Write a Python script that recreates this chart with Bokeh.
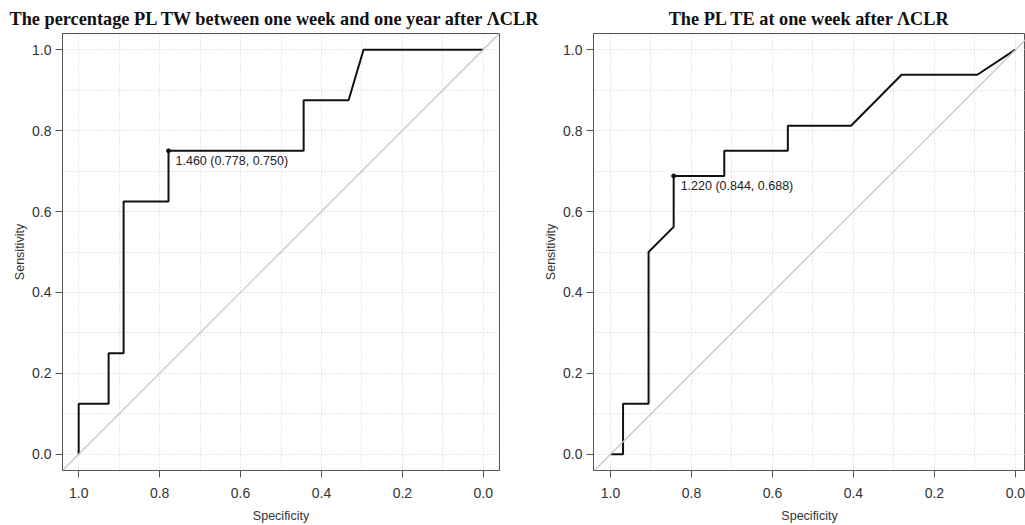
from bokeh.plotting import figure
from bokeh.layouts import row
from bokeh.models import Range1d, FixedTicker, Slope, PrintfTickFormatter
from bokeh.core.properties import value
from bokeh.embed import file_html
from bokeh.resources import INLINE

# ---- data ----
titles = ["The percentage PL TW between one week and one year after \u039bCLR",
          "The PL TE at one week after \u039bCLR"]

tw_spec = [1.0, 1.0, 0.926, 0.926, 0.889, 0.889, 0.778, 0.778, 0.444, 0.444, 0.333, 0.296, 0.0]
tw_sens = [0.0, 0.125, 0.125, 0.25, 0.25, 0.625, 0.625, 0.75, 0.75, 0.875, 0.875, 1.0, 1.0]
tw_thr = 1.460
tw_thr_spec = 0.778
tw_thr_sens = 0.750

te_spec = [1.0, 0.969, 0.969, 0.906, 0.906, 0.844, 0.844, 0.719, 0.719, 0.562, 0.562, 0.406, 0.281, 0.094, 0.0]
te_sens = [0.0, 0.0, 0.125, 0.125, 0.5, 0.562, 0.688, 0.688, 0.75, 0.75, 0.812, 0.812, 0.938, 0.938, 1.0]
te_thr = 1.220
te_thr_spec = 0.844
te_thr_sens = 0.688

x_ticks = [1.0, 0.8, 0.6, 0.4, 0.2, 0.0]
y_ticks = [0.0, 0.2, 0.4, 0.6, 0.8, 1.0]
grid_ticks = [0.0, 0.1, 0.2, 0.3, 0.4, 0.5, 0.6, 0.7, 0.8, 0.9, 1.0]

FONT = "Liberation Sans"
H = 525


def make_panel(title, spec, sens, thr, tspec, tsens, width, bl, br, x_start, x_end,
               t_align, t_offset):
    p = figure(width=width, height=H, x_range=Range1d(x_start, x_end),
               y_range=Range1d(-0.04, 1.04), output_backend="svg", toolbar_location=None,
               min_border_left=bl, min_border_right=br, min_border_top=33,
               min_border_bottom=55, background_fill_color="white",
               border_fill_color="white")
    p.title.text = title
    p.title.text_font = "Liberation Serif"
    p.title.text_font_size = "18.3px"
    p.title.text_font_style = "bold"
    p.title.text_color = "#111111"
    p.title.align = t_align
    p.title.offset = t_offset
    p.title.standoff = 10

    p.outline_line_color = "#555555"
    p.outline_line_width = 1

    for ax in (p.xaxis[0], p.yaxis[0]):
        ax.axis_line_color = "#555555"
        ax.major_tick_line_color = "#555555"
        ax.major_tick_out = 7
        ax.major_tick_in = 0
        ax.minor_tick_line_color = None
        ax.major_label_text_font = FONT
        ax.major_label_text_font_size = "14px"
        ax.major_label_text_color = "#333333"
        ax.axis_label_text_font = FONT
        ax.axis_label_text_font_size = "12.5px"
        ax.axis_label_text_font_style = "normal"
        ax.axis_label_text_color = "#333333"
        ax.formatter = PrintfTickFormatter(format="%.1f")
    p.xaxis.ticker = FixedTicker(ticks=x_ticks)
    p.yaxis.ticker = FixedTicker(ticks=y_ticks)
    p.xaxis.axis_label = "Specificity"
    p.yaxis.axis_label = "Sensitivity"
    p.xaxis.major_label_standoff = 10
    p.xaxis.axis_label_standoff = 8
    p.yaxis.major_label_standoff = 4
    p.yaxis.axis_label_standoff = 2
    p.yaxis.major_label_orientation = "horizontal"

    for g in (p.xgrid[0], p.ygrid[0]):
        g.ticker = FixedTicker(ticks=grid_ticks)
        g.grid_line_color = "#d0d0d0"
        g.grid_line_dash = "1 2"
        g.grid_line_width = 1

    p.add_layout(Slope(gradient=-1, y_intercept=1, line_color="#c4c4c4", line_width=1.2))
    p.line(spec, sens, line_color="#111111", line_width=2)
    p.scatter([tspec], [tsens], size=4, color="#111111")
    label = f"{thr:.3f} ({tspec:.3f}, {tsens:.3f})"
    p.text([tspec], [tsens], text=[label], text_font=value(FONT),
           text_font_size="12.5px", text_color="#222222", x_offset=7, y_offset=10,
           text_baseline="middle", text_align="left")
    return p


p1 = make_panel(titles[0], tw_spec, tw_sens, tw_thr, tw_thr_spec, tw_thr_sens,
                540, 62, 41, 1.04, -0.04, "left", -53)
p2 = make_panel(titles[1], te_spec, te_sens, te_thr, te_thr_spec, te_thr_sens,
                485, 53, 0, 1.042, -0.025, "center", 0)

layout = row(p1, p2)
open("out.html", "w").write(file_html(layout, INLINE))
